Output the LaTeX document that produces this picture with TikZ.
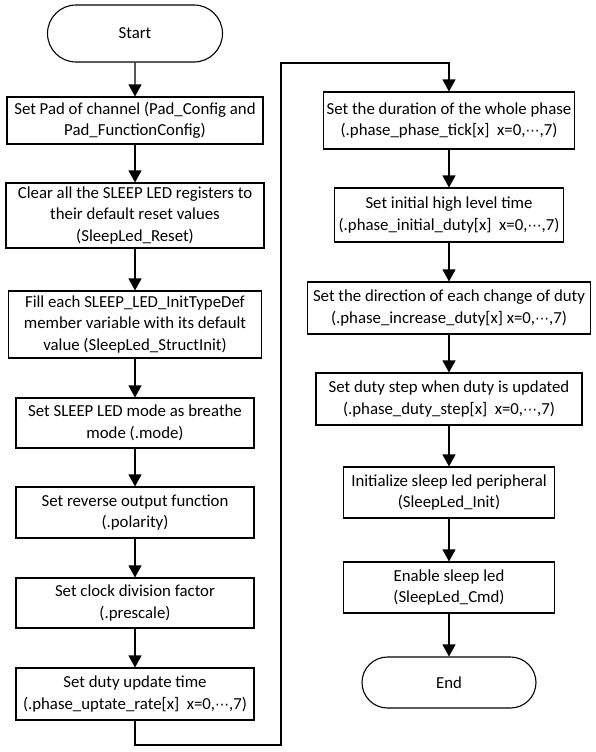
\documentclass[tikz,border=0pt]{standalone}
\usepackage{fontspec}
\setmainfont{Carlito}
\newfontfamily\dvsfont{DejaVu Sans}
\newcommand{\mdots}{{\dvsfont\fontsize{14}{14}\selectfont ⋯}}
\usetikzlibrary{arrows.meta,shapes.misc}
\begin{document}
\begin{tikzpicture}[x=1pt,y=-1pt,
  box/.style={draw,line width=1.1pt,rectangle,align=center,inner sep=0pt,font=\fontsize{16.8}{21.5}\selectfont},
  term/.style={draw,line width=1.1pt,rounded rectangle,align=center,inner sep=0pt,font=\fontsize{16.8}{21.5}\selectfont},
  arr/.style={line width=1.1pt,-{Triangle[width=13pt,length=12pt]}}]
\useasboundingbox[fill=white] (0,0) rectangle (596,752);
% left column
\node[term,minimum width=175pt,minimum height=57pt] (start) at (135,33.5) {Start};
\node[box,minimum width=256pt,minimum height=47pt] (b1) at (135,120.5) {Set Pad of channel (Pad\_Config and\\Pad\_FunctionConfig)};
\node[box,minimum width=258pt,minimum height=65pt] (b2) at (135,215.5) {Clear all the SLEEP LED registers to\\their default reset values\\(SleepLed\_Reset)};
\node[box,minimum width=253pt,minimum height=67pt] (b3) at (135,324.5) {Fill each SLEEP\_LED\_InitTypeDef\\member variable with its default\\value (SleepLed\_StructInit)};
\node[box,minimum width=238pt,minimum height=50pt] (b4) at (135,423) {Set SLEEP LED mode as breathe\\mode (.mode)};
\node[box,minimum width=238pt,minimum height=51pt] (b5) at (135,512.5) {Set reverse output function\\(.polarity)};
\node[box,minimum width=238pt,minimum height=50pt] (b6) at (135,603) {Set clock division factor\\(.prescale)};
\node[box,minimum width=238pt,minimum height=52pt] (b7) at (135,694) {Set duty update time\\(.phase\_uptate\_rate[x]\ \ x=0,\mdots,7)};
% right column
\node[box,minimum width=251pt,minimum height=57pt] (r1) at (449,120.5) {Set the duration of the whole phase\\(.phase\_phase\_tick[x]\ \ x=0,\mdots,7)};
\node[box,minimum width=229pt,minimum height=54pt] (r2) at (449,215) {Set initial high level time\\(.phase\_initial\_duty[x]\ \ x=0,\mdots,7)};
\node[box,minimum width=283pt,minimum height=52pt] (r3) at (449,308) {Set the direction of each change of duty\\(.phase\_increase\_duty[x] x=0,\mdots,7)};
\node[box,minimum width=266pt,minimum height=52pt] (r4) at (449,399) {Set duty step when duty is updated\\(.phase\_duty\_step[x]\ \ x=0,\mdots,7)};
\node[box,minimum width=211pt,minimum height=51pt] (r5) at (449,492.5) {Initialize sleep led peripheral\\(SleepLed\_Init)};
\node[box,minimum width=211pt,minimum height=51pt] (r6) at (449,587.5) {Enable sleep led\\(SleepLed\_Cmd)};
\node[term,minimum width=174pt,minimum height=51pt] (end) at (449,682.5) {End};
% connectors
\draw[arr] (start) -- (b1);
\draw[arr] (b1) -- (b2);
\draw[arr] (b2) -- (b3);
\draw[arr] (b3) -- (b4);
\draw[arr] (b4) -- (b5);
\draw[arr] (b5) -- (b6);
\draw[arr] (b6) -- (b7);
\coordinate (c1) at (135,745);
\coordinate (c2) at (281,745);
\coordinate (c3) at (281,63);
\coordinate (c4) at (449,63);
\draw[arr] (b7.south) -- (c1) -- (c2) -- (c3) -- (c4) -- (r1.north);
\draw[arr] (r1) -- (r2);
\draw[arr] (r2) -- (r3);
\draw[arr] (r3) -- (r4);
\draw[arr] (r4) -- (r5);
\draw[arr] (r5) -- (r6);
\draw[arr] (r6) -- (end);
\end{tikzpicture}
\end{document}
